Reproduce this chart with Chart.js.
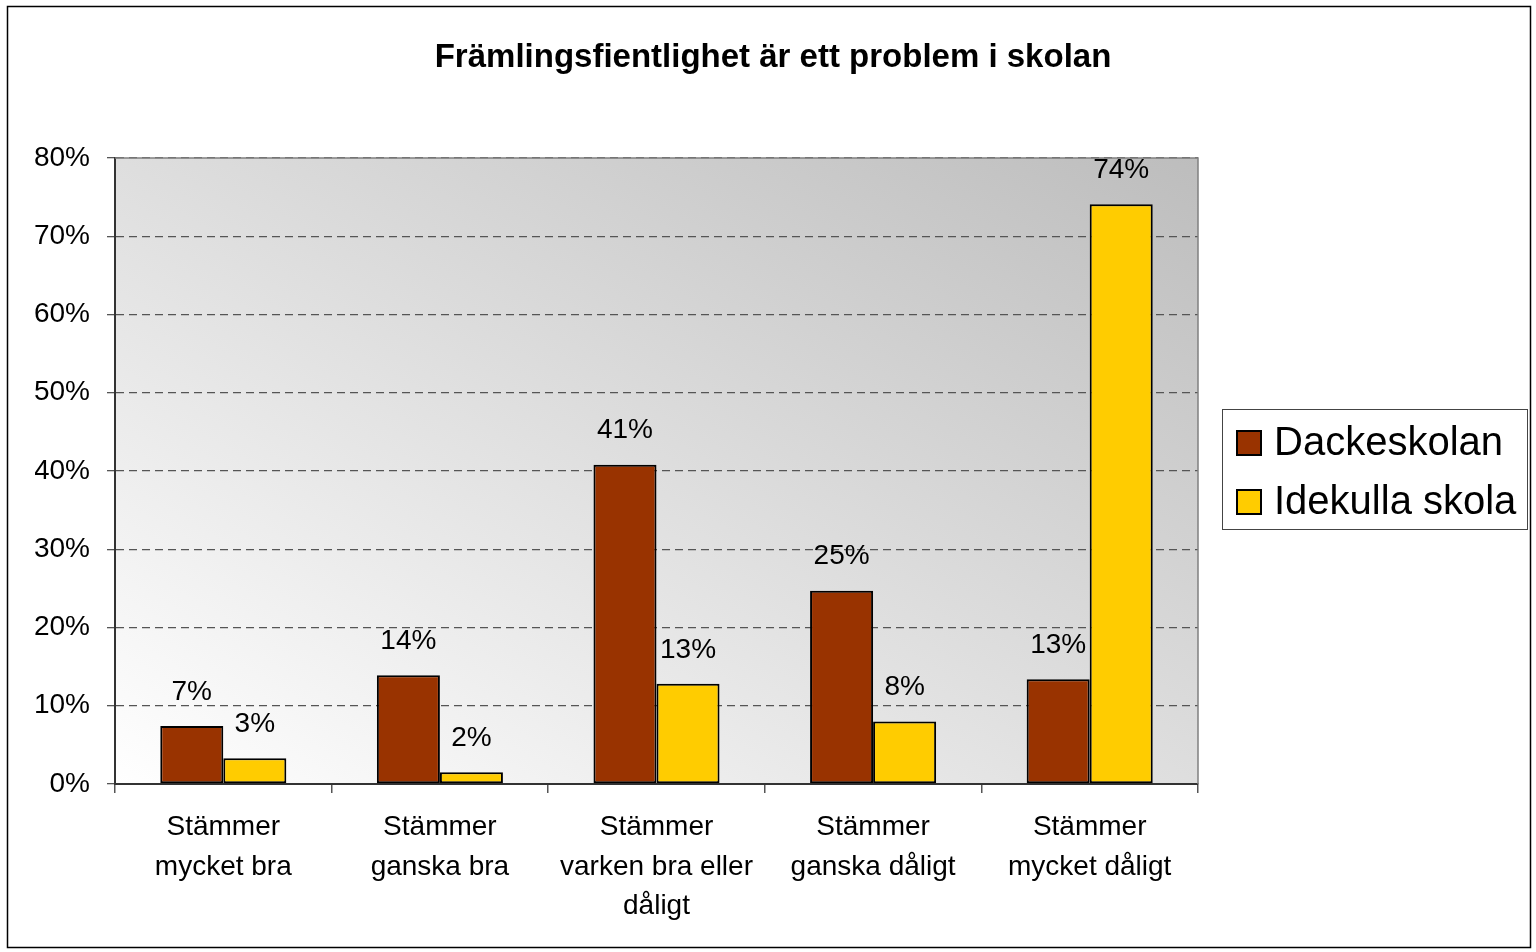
<!DOCTYPE html>
<html>
<head>
<meta charset="utf-8">
<script src="https://cdn.jsdelivr.net/npm/chart.js@4/dist/chart.umd.min.js"></script>
<style>
  html, body { margin: 0; padding: 0; background: #fff; }
  #wrap { width: 1536px; height: 952px; }
</style>
</head>
<body>
<div id="wrap"><canvas id="myChart" width="1536" height="952"></canvas></div>
<script>
// chart data
let chartTitle = "Främlingsfientlighet är ett problem i skolan";
let categories = [
    ["Stämmer", "mycket bra"],
    ["Stämmer", "ganska bra"],
    ["Stämmer", "varken bra eller", "dåligt"],
    ["Stämmer", "ganska dåligt"],
    ["Stämmer", "mycket dåligt"]
];
let seriesNames = ["Dackeskolan", "Idekulla skola"];
let dackeskolan = [7.4, 13.9, 40.8, 24.7, 13.4];
let idekulla = [3.3, 1.5, 12.8, 8.0, 74.1];
let seriesColors = ["#993300", "#ffcc00"];
let yTickValues = [0, 10, 20, 30, 40, 50, 60, 70, 80];

let fontName = "'Liberation Sans', Arial, sans-serif";

// gradient behind the plot + grey frame on top/right
let plotBackground = {
    id: 'plotBackground',
    beforeDraw(chart) {
        let ctx = chart.ctx;
        let a = chart.chartArea;
        let w = a.right - a.left, h = a.bottom - a.top;
        let k = 2 * w * h / (w * w + h * h);
        let g = ctx.createLinearGradient(a.left, a.bottom, a.left + h * k, a.bottom - w * k);
        g.addColorStop(0, '#ffffff');
        g.addColorStop(1, '#bdbdbd');
        ctx.save();
        ctx.fillStyle = '#ffffff';
        ctx.fillRect(0, 0, chart.width, chart.height);
        ctx.fillStyle = g;
        ctx.fillRect(a.left, a.top, w, h);
        ctx.restore();
    },
    beforeDatasetsDraw(chart) {
        let ctx = chart.ctx;
        let a = chart.chartArea;
        ctx.save();
        ctx.strokeStyle = '#808080';
        ctx.lineWidth = 1.5;
        ctx.beginPath();
        ctx.moveTo(a.left, a.top);
        ctx.lineTo(a.right, a.top);
        ctx.lineTo(a.right, a.bottom);
        ctx.stroke();
        ctx.restore();
    }
};

// value labels above the bars
let barLabels = {
    id: 'barLabels',
    afterDatasetsDraw(chart) {
        let ctx = chart.ctx;
        ctx.save();
        ctx.font = '28px ' + fontName;
        ctx.fillStyle = '#000';
        ctx.textAlign = 'center';
        ctx.textBaseline = 'middle';
        chart.data.datasets.forEach(function(ds, i) {
            chart.getDatasetMeta(i).data.forEach(function(bar, j) {
                ctx.fillText(Math.round(ds.data[j]) + '%', bar.x, bar.y - 34);
            });
        });
        ctx.restore();
    }
};

// title centred on the page, boxed legend on the right, outer border
let frameAndLegend = {
    id: 'frameAndLegend',
    afterDraw(chart) {
        let ctx = chart.ctx;
        ctx.save();
        ctx.strokeStyle = '#000';
        ctx.lineWidth = 1.5;
        ctx.strokeRect(7.5, 6.5, 1523, 941);

        ctx.fillStyle = '#000';
        ctx.font = 'bold 33px ' + fontName;
        ctx.textAlign = 'center';
        ctx.textBaseline = 'middle';
        ctx.fillText(chartTitle, 773, 58);

        ctx.strokeStyle = '#444';
        ctx.lineWidth = 1;
        ctx.strokeRect(1222.5, 409.5, 305, 120);

        ctx.font = '40px ' + fontName;
        ctx.textAlign = 'left';
        let rowY = [443, 502];
        chart.data.datasets.forEach(function(ds, i) {
            ctx.fillStyle = ds.backgroundColor;
            ctx.fillRect(1237, rowY[i] - 12, 24, 24);
            ctx.strokeStyle = '#000';
            ctx.lineWidth = 2;
            ctx.strokeRect(1237, rowY[i] - 12, 24, 24);
            ctx.fillStyle = '#000';
            ctx.fillText(ds.label, 1274, rowY[i] + 1);
        });
        ctx.restore();
    }
};

var ctx = document.getElementById('myChart').getContext('2d');
var chart = new Chart(ctx, {
    type: 'bar',
    data: {
        labels: categories,
        datasets: [{
            label: seriesNames[0],
            data: dackeskolan,
            backgroundColor: seriesColors[0],
            borderColor: '#000',
            borderWidth: 2,
            borderSkipped: false
        }, {
            label: seriesNames[1],
            data: idekulla,
            backgroundColor: seriesColors[1],
            borderColor: '#000',
            borderWidth: 2,
            borderSkipped: false
        }]
    },
    options: {
        responsive: false,
        animation: false,
        layout: { padding: { left: 35, right: 338, top: 158, bottom: 0 } },
        datasets: { bar: { barPercentage: 1, categoryPercentage: 0.582 } },
        plugins: {
            legend: { display: false },
            tooltip: { enabled: false },
            title: { display: false }
        },
        scales: {
            x: {
                offset: true,
                afterFit(scale) { scale.height = 168; },
                grid: {
                    offset: true,
                    drawOnChartArea: false,
                    drawTicks: true,
                    tickLength: 9,
                    color: '#555',
                    lineWidth: 1.5
                },
                border: { display: true, color: '#333', width: 2 },
                ticks: {
                    color: '#000',
                    padding: 15,
                    maxRotation: 0,
                    autoSkip: false,
                    font: { family: fontName, size: 28, lineHeight: 1.41 }
                }
            },
            y: {
                min: yTickValues[0],
                max: yTickValues[yTickValues.length - 1],
                afterFit(scale) { scale.width = 80; },
                afterBuildTicks(scale) {
                    scale.ticks = yTickValues.map(function(v) { return { value: v }; });
                },
                grid: {
                    color: '#555',
                    lineWidth: 1.3,
                    tickLength: 8,
                    drawTicks: true
                },
                border: { display: true, color: '#333', width: 2, dash: [8, 5] },
                ticks: {
                    color: '#000',
                    padding: 17,
                    font: { family: fontName, size: 28 },
                    callback: function(v) { return v + '%'; }
                }
            }
        }
    },
    plugins: [plotBackground, barLabels, frameAndLegend]
});
</script>
</body>
</html>
